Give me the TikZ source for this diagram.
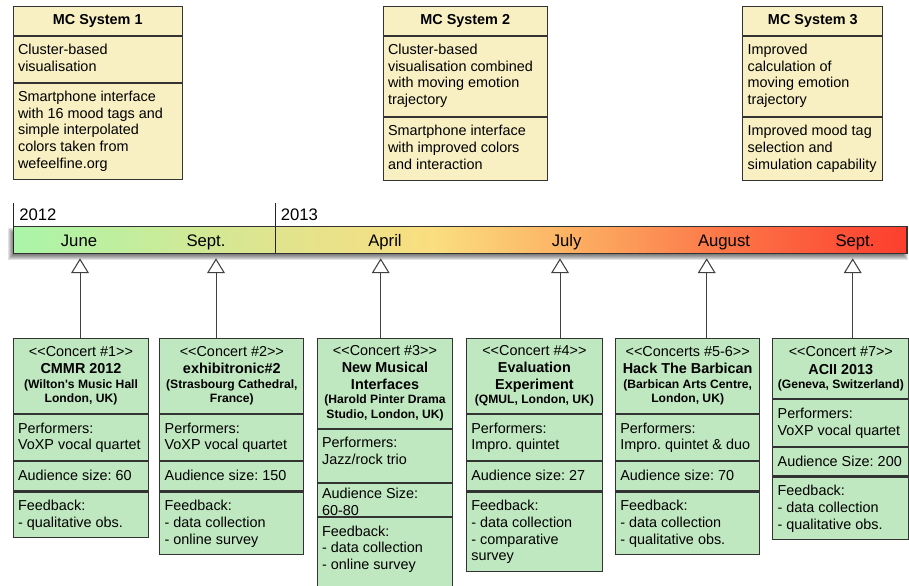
\documentclass[tikz,border=0pt]{standalone}
\usepackage{fontspec}
\setmainfont{Liberation Sans}
\usepackage{tikz}
\usepackage{xcolor}
\usetikzlibrary{calc, positioning, arrows.meta}
\definecolor{mcyellow}{RGB}{248, 240, 194}
\definecolor{mcgreen}{RGB}{192, 232, 192}
\definecolor{tlA}{RGB}{170, 245, 168}
\definecolor{tlB}{RGB}{224, 228, 142}
\definecolor{tlC}{RGB}{250, 222, 128}
\definecolor{tlD}{RGB}{252, 178, 100}
\definecolor{tlE}{RGB}{252, 118, 72}
\definecolor{tlF}{RGB}{252, 62, 46}
\newcommand{\venue}[1]{{\fontsize{6.9}{8.3}\selectfont\bfseries #1}}
\frenchspacing

\begin{document}
\begin{tikzpicture}[x=0.02cm, y=-0.02cm]
        \useasboundingbox (0, 0) rectangle (909, 585);
        \def\px{0.02cm}

        \tikzstyle{sys} = [draw=black!80, fill=mcyellow, line width=0.6pt, anchor=north west, inner sep=0pt];
        \tikzstyle{conc} = [draw=black!80, fill=mcgreen, line width=0.6pt, anchor=north west, inner sep=0pt];
        \tikzstyle{txt} = [anchor=north west, align=left, inner sep=0pt, font=\fontsize{8.2}{9.47}\selectfont];
        \tikzstyle{hdr} = [align=center, inner sep=0pt, font=\fontsize{8.2}{9.47}\selectfont];
        \tikzstyle{tl} = [inner sep=0pt, font=\fontsize{9.5}{11}\selectfont];
        \tikzstyle{gen} = [draw=black!75, line width=0.5pt, -{Triangle[open, fill=white, length=8.5pt, width=10.2pt, line width=0.6pt]}];

        % MC systems
        \foreach \n/\x/\w/\ha/\hb/\hc in {1/12.7/169/29/46/96.3, 2/382.7/164/29/80.3/62.7, 3/742.3/140/29/80.3/62.7}{
            \node [sys, minimum width=\w*\px, minimum height=\ha*\px] (S\n h) at (\x, 5.7) { };
            \node [sys, minimum width=\w*\px, minimum height=\hb*\px] (S\n a) at (S\n h.south west) { };
            \node [sys, minimum width=\w*\px, minimum height=\hc*\px] (S\n b) at (S\n a.south west) { };
        }

        \node [hdr] (S1ht) at (S1h) {\textbf{MC System 1}};
        \node [hdr] (S2ht) at (S2h) {\textbf{MC System 2}};
        \node [hdr] (S3ht) at (S3h) {\textbf{MC System 3}};

        \node [txt] (S1at) at ($(S1a.north west) + (5, 8)$) {Cluster-based\\visualisation};
        \node [txt] (S1bt) at ($(S1b.north west) + (5, 8)$) {Smartphone interface\\with 16 mood tags and\\simple interpolated\\colors taken from\\wefeelfine.org};
        \node [txt] (S2at) at ($(S2a.north west) + (5, 8)$) {Cluster-based\\visualisation combined\\with moving emotion\\trajectory};
        \node [txt] (S2bt) at ($(S2b.north west) + (5, 8)$) {Smartphone interface\\with improved colors\\and interaction};
        \node [txt] (S3at) at ($(S3a.north west) + (5, 8)$) {Improved\\calculation of\\moving emotion\\trajectory};
        \node [txt] (S3bt) at ($(S3b.north west) + (5, 8)$) {Improved mood tag\\selection and\\simulation capability};

        % timeline
        \foreach \e in {-3, ..., 3}{
            \fill [black, opacity=0.11] (11.3 - \e, 230.7 - \e) rectangle (905 + \e, 257.3 + \e);
        }
        \foreach \xa/\xb/\ca/\cb in {13.3/275.3/tlA/tlB, 275.3/433/tlB/tlC, 433/566.7/tlC/tlD, 566.7/724/tlD/tlE, 724/907/tlE/tlF}{
            \shade [left color=\ca, right color=\cb] (\xa, 226.7) rectangle (\xb, 253.3);
        }
        \draw [black!80, line width=0.6pt] (13.3, 226.7) rectangle (907, 253.3);
        \draw [black!85, line width=0.6pt] (13.3, 203) -- (13.3, 253.3);
        \draw [black!85, line width=0.6pt] (275.3, 203) -- (275.3, 253.3);

        \node [tl, anchor=base west] (Y2012) at (19, 220.5) {2012};
        \node [tl, anchor=base west] (Y2013) at (280.5, 220.5) {2013};

        \foreach \m/\x/\lbl in {1/79/June, 2/206/Sept., 3/385/April, 4/566.7/July, 5/724/August, 6/855/Sept.}{
            \node [tl, anchor=base] (M\m) at (\x, 246.5) {\lbl};
        }

        % concerts
        \foreach \n/\x/\w/\ha/\hb/\hc/\hd in {1/12.7/135.6/74.4/46.3/29.3/45.7, 2/159.3/144/74.4/46.3/29.3/62.7, 3/316.7/135.6/89.3/53.4/32.6/77, 4/466/135.7/74.4/46.3/29.3/79.4, 5/615/144.3/74.4/46.3/29.3/62.7, 6/772.3/136/60/46.7/28.3/62.7}{
            \node [conc, minimum width=\w*\px, minimum height=\ha*\px] (C\n h) at (\x, 338.3) { };
            \node [conc, minimum width=\w*\px, minimum height=\hb*\px] (C\n p) at (C\n h.south west) { };
            \node [conc, minimum width=\w*\px, minimum height=\hc*\px] (C\n a) at (C\n p.south west) { };
            \node [conc, minimum width=\w*\px, minimum height=\hd*\px] (C\n f) at (C\n a.south west) { };
        }

        \node [hdr] (C1ht) at (C1h) {<\kern0pt<Concert \#1>\kern0pt>\\[0.3pt]\textbf{CMMR 2012}\\[-1.4pt]\venue{(Wilton\textquotesingle s Music Hall}\\[-1pt]\venue{London, UK)}};
        \node [hdr] (C2ht) at (C2h) {<\kern0pt<Concert \#2>\kern0pt>\\[0.3pt]\textbf{exhibitronic\#2}\\[-1.4pt]\venue{(Strasbourg Cathedral,}\\[-1pt]\venue{France)}};
        \node [hdr] (C3ht) at (C3h) {<\kern0pt<Concert \#3>\kern0pt>\\[0.3pt]\textbf{New Musical}\\\textbf{Interfaces}\\[-1.4pt]\venue{(Harold Pinter Drama}\\[-1pt]\venue{Studio, London, UK)}};
        \node [hdr] (C4ht) at (C4h) {<\kern0pt<Concert \#4>\kern0pt>\\[0.3pt]\textbf{Evaluation}\\\textbf{Experiment}\\[-1.4pt]\venue{(QMUL, London, UK)}};
        \node [hdr] (C5ht) at (C5h) {<\kern0pt<Concerts \#5-6>\kern0pt>\\[0.3pt]\textbf{Hack The Barbican}\\[-1.4pt]\venue{(Barbican Arts Centre,}\\[-1pt]\venue{London, UK)}};
        \node [hdr] (C6ht) at (C6h) {<\kern0pt<Concert \#7>\kern0pt>\\[0.3pt]\textbf{ACII 2013}\\[-1.4pt]\venue{(Geneva, Switzerland)}};

        \node [txt] (C1pt) at ($(C1p.north west) + (5, 8.5)$) {Performers:\\VoXP vocal quartet};
        \node [txt] (C2pt) at ($(C2p.north west) + (5, 8.5)$) {Performers:\\VoXP vocal quartet};
        \node [txt] (C3pt) at ($(C3p.north west) + (5, 8.5)$) {Performers:\\Jazz/rock trio};
        \node [txt] (C4pt) at ($(C4p.north west) + (5, 8.5)$) {Performers:\\Impro. quintet};
        \node [txt] (C5pt) at ($(C5p.north west) + (5, 8.5)$) {Performers:\\Impro. quintet \& duo};
        \node [txt] (C6pt) at ($(C6p.north west) + (5, 8.5)$) {Performers:\\VoXP vocal quartet};

        \node [txt] (C1at) at ($(C1a.north west) + (5, 8.5)$) {Audience size: 60};
        \node [txt] (C2at) at ($(C2a.north west) + (5, 8.5)$) {Audience size: 150};
        \node [txt] (C3at) at ($(C3a.north west) + (5, 5)$) {Audience Size:\\60-80};
        \node [txt] (C4at) at ($(C4a.north west) + (5, 8.5)$) {Audience size: 27};
        \node [txt] (C5at) at ($(C5a.north west) + (5, 8.5)$) {Audience size: 70};
        \node [txt] (C6at) at ($(C6a.north west) + (5, 8.5)$) {Audience Size: 200};

        \node [txt] (C1ft) at ($(C1f.north west) + (5, 8.5)$) {Feedback:\\- qualitative obs.};
        \node [txt] (C2ft) at ($(C2f.north west) + (5, 8.5)$) {Feedback:\\- data collection\\- online survey};
        \node [txt] (C3ft) at ($(C3f.north west) + (5, 8.5)$) {Feedback:\\- data collection\\- online survey};
        \node [txt] (C4ft) at ($(C4f.north west) + (5, 8.5)$) {Feedback:\\- data collection\\- comparative\\survey};
        \node [txt] (C5ft) at ($(C5f.north west) + (5, 8.5)$) {Feedback:\\- data collection\\- qualitative obs.};
        \node [txt] (C6ft) at ($(C6f.north west) + (5, 8.5)$) {Feedback:\\- data collection\\- qualitative obs.};

        % arrows up to the timeline
        \foreach \n/\x in {1/80, 2/216, 3/380.7, 4/560, 5/706.7, 6/852.7}{
            \coordinate (A\n) at (\x, 258.3);
            \draw [gen] (A\n |- C\n h.north) -- (A\n);
        }
    \end{tikzpicture}
\end{document}
